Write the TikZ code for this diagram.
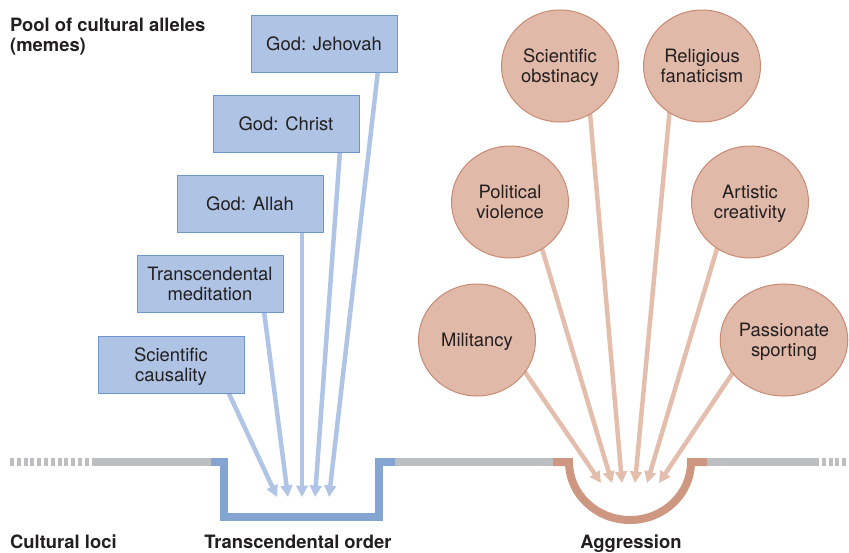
\documentclass[tikz,border=0pt]{standalone}
\usepackage{fontspec}
\setmainfont{TeX Gyre Heros}
\usetikzlibrary{arrows.meta,backgrounds,calc,shapes.geometric}
\definecolor{boxfill}{HTML}{AFC3E4}
\definecolor{boxline}{HTML}{6D96CC}
\definecolor{bluearr}{HTML}{B0C4E5}
\definecolor{bluetrench}{HTML}{84A4D2}
\definecolor{circfill}{HTML}{E0B9A8}
\definecolor{circline}{HTML}{C88B73}
\definecolor{salarr}{HTML}{E4BEAD}
\definecolor{saltrench}{HTML}{CE9782}
\definecolor{locgray}{HTML}{BDBEC1}
\definecolor{txt}{HTML}{231F20}
\tikzset{
  txtfont/.style={font=\fontsize{18.4}{20}\selectfont, text=txt},
  memebox/.style={txtfont, draw=boxline, fill=boxfill, line width=1pt, minimum width=146pt, minimum height=57pt, align=center, inner sep=2pt, text depth=0pt},
  memecirc/.style={txtfont, ellipse, draw=circline, fill=circfill, line width=1pt, minimum width=117pt, minimum height=112pt, align=center, inner sep=0pt, text depth=0pt},
  barrow/.style={bluearr, line width=4.5pt, -{Triangle[width=11.5pt,length=11.5pt]}},
  sarrow/.style={salarr, line width=4.5pt, -{Triangle[width=11.5pt,length=11.5pt]}},
  locus/.style={line width=8pt},
  locdash/.style={locgray, line width=8pt, dash pattern=on 4pt off 2.8pt},
  heading/.style={font=\fontsize{18.4}{20}\selectfont\bfseries, text=txt, inner sep=0pt, align=left}
}
\begin{document}
\begin{tikzpicture}[x=1pt,y=-1pt]
\useasboundingbox (0,0) rectangle (849,552);

% headings
\node[heading, anchor=north west] (pool) at (10,17.5) {Pool of cultural alleles\\(memes)};
\node[heading, anchor=base west] (loci) at (10,548) {Cultural loci};
\node[heading, anchor=base] (trans) at (298,548) {Transcendental order};
\node[heading, anchor=base] (aggr) at (631,548) {Aggression};

% blue boxes
\node[memebox] (jeh) at (324,43.5) {God: Jehovah};
\node[memebox] (chr) at (286,123.5) {God: Christ};
\node[memebox] (all) at (250,204) {God: Allah};
\node[memebox] (tm)  at (210,284) {Transcendental\\meditation};
\node[memebox] (sc)  at (171,364.5) {Scientific\\causality};

% salmon circles
\node[memecirc] (so) at (560,66) {Scientific\\obstinacy};
\node[memecirc] (rf) at (702,66) {Religious\\fanaticism};
\node[memecirc] (pv) at (510,202) {Political\\violence};
\node[memecirc] (ac) at (750,202) {Artistic\\creativity};
\node[memecirc] (mil) at (477,340) {Militancy};
\node[memecirc] (ps) at (784,340) {Passionate\\sporting};

% arrow tips
\coordinate (b1) at (277,497);
\coordinate (b2) at (288,497);
\coordinate (b3) at (302,497);
\coordinate (b4) at (315,497);
\coordinate (b5) at (329,497);
\coordinate (s1) at (601,483);
\coordinate (s2) at (612,483);
\coordinate (s3) at (622,483);
\coordinate (s4) at (635,483);
\coordinate (s5) at (647,483);
\coordinate (s6) at (659,483);

% loci line coordinates
\coordinate (l0) at (10,462);
\coordinate (l1) at (95,462);
\coordinate (l2) at (211,462);
\coordinate (l3) at (224,462);
\coordinate (l4) at (224,517);
\coordinate (l5) at (379,517);
\coordinate (l6) at (379,462);
\coordinate (l7) at (395,462);
\coordinate (l8) at (553,462);
\coordinate (l9) at (569,462);
\coordinate (l10) at (691,462);
\coordinate (l11) at (707,462);
\coordinate (l12) at (815,462);
\coordinate (l13) at (849,462);

\begin{scope}[on background layer]
  \draw[barrow] ([xshift=57pt,yshift=2pt]sc.south) -- (b1);
  \draw[barrow] ([xshift=54pt,yshift=2pt]tm.south) -- (b2);
  \draw[barrow] ([xshift=52pt,yshift=2pt]all.south) -- (b3);
  \draw[barrow] ([xshift=54pt,yshift=2pt]chr.south) -- (b4);
  \draw[barrow] ([xshift=54pt,yshift=2pt]jeh.south) -- (b5);

  \draw[sarrow] ($(mil.center)!0.96!(mil.-33)$) -- (s1);
  \draw[sarrow] ($(pv.center)!0.96!(pv.-55)$) -- (s2);
  \draw[sarrow] ($(so.center)!0.96!(so.-57)$) -- (s3);
  \draw[sarrow] ($(rf.center)!0.96!(rf.-126)$) -- (s4);
  \draw[sarrow] ($(ac.center)!0.96!(ac.-126)$) -- (s5);
  \draw[sarrow] ($(ps.center)!0.96!(ps.-148)$) -- (s6);
\end{scope}

% cultural loci line
\draw[locdash] (l0) -- (l1);
\draw[locus, locgray] (l1) -- (l2);
\draw[locus, bluetrench] (l2) -- (l3) -- (l4) -- (l5) -- (l6) -- (l7);
\draw[locus, locgray] (l7) -- (l8);
\draw[locus, saltrench] (l8) -- (l9) arc[start angle=180, end angle=360, x radius=61pt, y radius=58pt] -- (l11);
\draw[locus, locgray] (l11) -- (l12);
\draw[locdash] (l12) -- (l13);
\end{tikzpicture}
\end{document}
